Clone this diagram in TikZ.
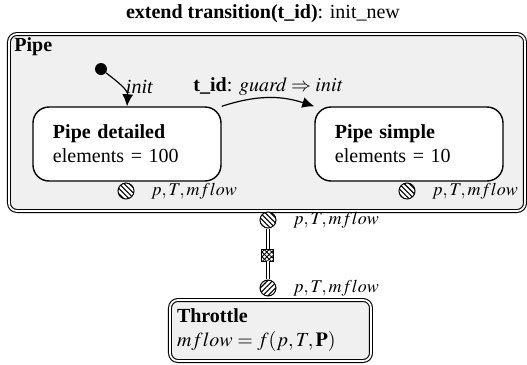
\documentclass[tikz,border=0pt]{standalone}
\usepackage{mathptmx}
\usepackage[no-math]{fontspec}
\setmainfont{Liberation Serif}
\usetikzlibrary{arrows.meta,patterns.meta}
\definecolor{boxgray}{RGB}{240,240,240}
\tikzset{
  dblbox/.style={draw, double=white, double distance=0.9pt, line width=0.55pt, fill=boxgray, rounded corners=4pt},
  statebox/.style={draw, line width=0.7pt, rounded corners=8pt, fill=white, align=left, inner xsep=10pt, text width=74pt, minimum height=37pt, inner ysep=0pt},
  portNW/.style={circle, draw, line width=0.5pt, minimum size=8pt, inner sep=0pt, preaction={fill=white}, pattern={Lines[angle=-45,distance=1.8pt,line width=0.55pt]}},
  portNE/.style={circle, draw, line width=0.5pt, minimum size=8pt, inner sep=0pt, preaction={fill=white}, pattern={Lines[angle=45,distance=1.8pt,line width=0.55pt]}},
  xbox/.style={rectangle, draw, line width=0.5pt, minimum size=6pt, inner sep=0pt, preaction={fill=white}, postaction={pattern={Lines[angle=45,distance=1.7pt,line width=0.45pt]}}, pattern={Lines[angle=-45,distance=1.7pt,line width=0.45pt]}},
  conn/.style={draw, double=white, double distance=0.9pt, line width=0.5pt},
  arr/.style={line width=0.6pt, -{Latex[length=6pt,width=5.5pt]}},
  portlbl/.style={anchor=west, font=\small, inner sep=1pt}
}
\begin{document}
\begin{tikzpicture}[x=0.5pt, y=-0.5pt]
\useasboundingbox (0,0) rectangle (527,365);
% title
\node (title) at (263,14) {\textbf{extend transition(t\_id)}: init\_new};
% pipe container
\node[dblbox, minimum width=258pt, minimum height=88.5pt, inner sep=0pt] (pipe) at (267,122.5) {};
\node[anchor=west, inner sep=1pt] (pipelbl) at (12,47) {\textbf{Pipe}};
% states
\node[statebox] (pd) at (127,144) {\textbf{Pipe detailed}\\elements = 100};
\node[statebox] (ps) at (409,144) {\textbf{Pipe simple}\\elements = 10};
% initial
\node[circle, fill=black, inner sep=0pt, minimum size=6pt] (init) at (101,69) {};
\draw[arr] (init) .. controls (118,82) and (128,90) .. node[pos=0.5, right=1pt, inner sep=1pt] {\textit{init}} (pd.north);
% transition
\draw[arr] (pd.north east) to[bend left=18] node[midway, above=0pt, inner sep=1pt] {\textbf{t\_id}: $\mathit{guard}\Rightarrow \mathit{init}$} (ps.north west);
% internal ports
\node[portNW] (pdport) at (126,191) {};
\node[portlbl] (pdportlbl) at (149,191) {$p,T,mflow$};
\node[portNW] (psport) at (407,191) {};
\node[portlbl] (psportlbl) at (430,191) {$p,T,mflow$};
% external connection
\node[portNW] (pup) at (268,220) {};
\node[portlbl] (puplbl) at (291,220) {$p,T,mflow$};
\node[portNE] (plow) at (268,288) {};
\node[portlbl] (plowlbl) at (291,288) {$p,T,mflow$};
\node[xbox] (xb) at (268,255) {};
\draw[conn] (pup) -- (xb);
\draw[conn] (xb) -- (plow);
% throttle
\node[dblbox, minimum width=100.5pt, minimum height=30.5pt, align=left, text width=93.5pt, inner xsep=3.5pt, inner ysep=0pt] (thr) at (270.5,330.5) {\textbf{Throttle}\\$mflow = f(p,T,\mathbf{P})$};
\end{tikzpicture}
\end{document}
